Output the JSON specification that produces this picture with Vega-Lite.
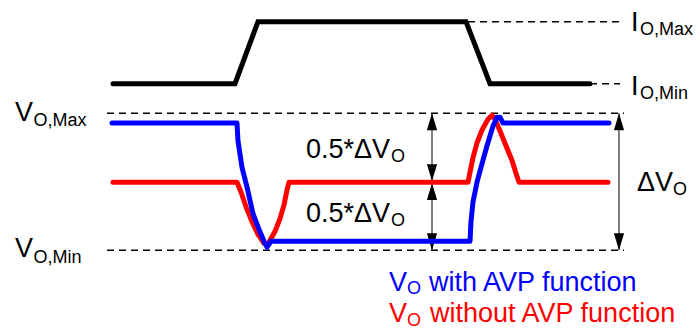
{
  "$schema": "https://vega.github.io/schema/vega-lite/v6.json",
  "width": 696,
  "height": 330,
  "padding": 0,
  "autosize": {"type": "fit", "contains": "padding"},
  "background": "white",
  "config": {"view": {"stroke": null}, "font": "Liberation Sans"},
  "datasets": {
    "wave": [
      {"series": "current", "i": 0, "t": 113, "v": 245},
      {"series": "current", "i": 1, "t": 235, "v": 245},
      {"series": "current", "i": 2, "t": 258, "v": 308},
      {"series": "current", "i": 3, "t": 466, "v": 308},
      {"series": "current", "i": 4, "t": 490, "v": 245},
      {"series": "current", "i": 5, "t": 590, "v": 245},

      {"series": "without", "i": 0, "t": 113, "v": 145},
      {"series": "without", "i": 1, "t": 237, "v": 145},
      {"series": "without", "i": 2, "t": 241, "v": 135},
      {"series": "without", "i": 3, "t": 246, "v": 120},
      {"series": "without", "i": 4, "t": 252, "v": 105},
      {"series": "without", "i": 5, "t": 258, "v": 92},
      {"series": "without", "i": 6, "t": 264, "v": 83},
      {"series": "without", "i": 7, "t": 267, "v": 81},
      {"series": "without", "i": 8, "t": 270, "v": 86},
      {"series": "without", "i": 9, "t": 275, "v": 95},
      {"series": "without", "i": 10, "t": 280, "v": 108},
      {"series": "without", "i": 11, "t": 284, "v": 122},
      {"series": "without", "i": 12, "t": 287, "v": 137},
      {"series": "without", "i": 13, "t": 289, "v": 145},
      {"series": "without", "i": 14, "t": 468, "v": 145},
      {"series": "without", "i": 15, "t": 470, "v": 155},
      {"series": "without", "i": 16, "t": 473, "v": 170},
      {"series": "without", "i": 17, "t": 477, "v": 185},
      {"series": "without", "i": 18, "t": 482, "v": 198},
      {"series": "without", "i": 19, "t": 488, "v": 209},
      {"series": "without", "i": 20, "t": 492, "v": 213},
      {"series": "without", "i": 21, "t": 495, "v": 209},
      {"series": "without", "i": 22, "t": 500, "v": 197},
      {"series": "without", "i": 23, "t": 506, "v": 182},
      {"series": "without", "i": 24, "t": 512, "v": 167},
      {"series": "without", "i": 25, "t": 516, "v": 154},
      {"series": "without", "i": 26, "t": 519, "v": 145},
      {"series": "without", "i": 27, "t": 608, "v": 145},

      {"series": "with", "i": 0, "t": 112, "v": 205},
      {"series": "with", "i": 1, "t": 237, "v": 205},
      {"series": "with", "i": 2, "t": 238, "v": 187},
      {"series": "with", "i": 3, "t": 242, "v": 160},
      {"series": "with", "i": 4, "t": 247, "v": 140},
      {"series": "with", "i": 5, "t": 253, "v": 113},
      {"series": "with", "i": 6, "t": 259, "v": 97},
      {"series": "with", "i": 7, "t": 264, "v": 85},
      {"series": "with", "i": 8, "t": 267, "v": 79},
      {"series": "with", "i": 9, "t": 271, "v": 85},
      {"series": "with", "i": 10, "t": 470, "v": 85},
      {"series": "with", "i": 11, "t": 471, "v": 105},
      {"series": "with", "i": 12, "t": 473, "v": 125},
      {"series": "with", "i": 13, "t": 477, "v": 145},
      {"series": "with", "i": 14, "t": 481, "v": 160},
      {"series": "with", "i": 15, "t": 487, "v": 182},
      {"series": "with", "i": 16, "t": 493, "v": 202},
      {"series": "with", "i": 17, "t": 497, "v": 211},
      {"series": "with", "i": 18, "t": 500, "v": 211},
      {"series": "with", "i": 19, "t": 503, "v": 205},
      {"series": "with", "i": 20, "t": 609, "v": 205}
    ],
    "dashes": [
      {"name": "IOMax", "t": 468, "t2": 620, "v": 308},
      {"name": "IOMin", "t": 590, "t2": 620, "v": 245},
      {"name": "VOMax", "t": 107, "t2": 624, "v": 215},
      {"name": "VOMin", "t": 107, "t2": 624, "v": 76}
    ],
    "spans": [
      {"name": "half", "t": 432, "v": 215, "v2": 76},
      {"name": "full", "t": 619, "v": 215, "v2": 76}
    ],
    "heads": [
      {"dir": "up", "t": 432, "v": 206.5},
      {"dir": "down", "t": 432, "v": 154.5},
      {"dir": "up", "t": 432, "v": 135.5},
      {"dir": "down", "t": 432, "v": 84.5},
      {"dir": "up", "t": 619, "v": 206.5},
      {"dir": "down", "t": 619, "v": 84.5}
    ],
    "labels": [
      {"role": "main", "group": "black", "label": "V", "t": 15, "v": 207},
      {"role": "sub", "group": "black", "label": "O,Max", "t": 33.5, "v": 202},
      {"role": "main", "group": "black", "label": "V", "t": 15, "v": 69},
      {"role": "sub", "group": "black", "label": "O,Min", "t": 33.5, "v": 63},
      {"role": "main", "group": "black", "label": "0.5*ΔV", "t": 306, "v": 170},
      {"role": "sub", "group": "black", "label": "O", "t": 391, "v": 166},
      {"role": "main", "group": "black", "label": "0.5*ΔV", "t": 306, "v": 105},
      {"role": "sub", "group": "black", "label": "O", "t": 391, "v": 101},
      {"role": "main", "group": "black", "label": "ΔV", "t": 637, "v": 136},
      {"role": "sub", "group": "black", "label": "O", "t": 673, "v": 132},
      {"role": "main", "group": "black", "label": "I", "t": 631, "v": 299},
      {"role": "sub", "group": "black", "label": "O,Max", "t": 640, "v": 294},
      {"role": "main", "group": "black", "label": "I", "t": 631, "v": 234},
      {"role": "sub", "group": "black", "label": "O,Min", "t": 640, "v": 229},
      {"role": "main", "group": "blue", "label": "V", "t": 389, "v": 35},
      {"role": "sub", "group": "blue", "label": "O", "t": 407, "v": 31},
      {"role": "main", "group": "blue", "label": "with AVP function", "t": 429, "v": 35},
      {"role": "main", "group": "red", "label": "V", "t": 389, "v": 3},
      {"role": "sub", "group": "red", "label": "O", "t": 407, "v": -1},
      {"role": "main", "group": "red", "label": "without AVP function", "t": 430, "v": 3}
    ]
  },
  "layer": [
    {
      "data": {"name": "dashes"},
      "mark": {"type": "rule", "color": "black", "strokeWidth": 1.5, "strokeDash": [7, 5]},
      "encoding": {
        "x": {"field": "t", "type": "quantitative", "scale": {"domain": [0, 696], "nice": false, "zero": false}, "axis": null},
        "x2": {"field": "t2"},
        "y": {"field": "v", "type": "quantitative", "scale": {"domain": [0, 330], "nice": false, "zero": false}, "axis": null}
      }
    },
    {
      "data": {"name": "spans"},
      "mark": {"type": "rule", "color": "black", "strokeWidth": 1},
      "encoding": {
        "x": {"field": "t", "type": "quantitative", "axis": null},
        "y": {"field": "v", "type": "quantitative", "axis": null},
        "y2": {"field": "v2"}
      }
    },
    {
      "data": {"name": "heads"},
      "transform": [{"filter": "datum.dir === 'up'"}],
      "mark": {"type": "point", "shape": "M0,-1L0.6,1L-0.6,1Z", "size": 289, "filled": true, "color": "black", "opacity": 1},
      "encoding": {
        "x": {"field": "t", "type": "quantitative", "axis": null},
        "y": {"field": "v", "type": "quantitative", "axis": null}
      }
    },
    {
      "data": {"name": "heads"},
      "transform": [{"filter": "datum.dir === 'down'"}],
      "mark": {"type": "point", "shape": "M0,1L0.6,-1L-0.6,-1Z", "size": 289, "filled": true, "color": "black", "opacity": 1},
      "encoding": {
        "x": {"field": "t", "type": "quantitative", "axis": null},
        "y": {"field": "v", "type": "quantitative", "axis": null}
      }
    },
    {
      "data": {"name": "wave"},
      "transform": [{"filter": "datum.series === 'current'"}],
      "mark": {"type": "line", "color": "black", "strokeWidth": 5, "strokeJoin": "miter", "strokeCap": "round"},
      "encoding": {
        "x": {"field": "t", "type": "quantitative", "axis": null},
        "y": {"field": "v", "type": "quantitative", "axis": null},
        "order": {"field": "i"}
      }
    },
    {
      "data": {"name": "wave"},
      "transform": [{"filter": "datum.series === 'without'"}],
      "mark": {"type": "line", "color": "#FF0000", "strokeWidth": 5, "strokeJoin": "round", "strokeCap": "round"},
      "encoding": {
        "x": {"field": "t", "type": "quantitative", "axis": null},
        "y": {"field": "v", "type": "quantitative", "axis": null},
        "order": {"field": "i"}
      }
    },
    {
      "data": {"name": "wave"},
      "transform": [{"filter": "datum.series === 'with'"}],
      "mark": {"type": "line", "color": "#0000FF", "strokeWidth": 5, "strokeJoin": "round", "strokeCap": "round"},
      "encoding": {
        "x": {"field": "t", "type": "quantitative", "axis": null},
        "y": {"field": "v", "type": "quantitative", "axis": null},
        "order": {"field": "i"}
      }
    },
    {
      "data": {"name": "labels"},
      "transform": [{"filter": "datum.role === 'main'"}],
      "mark": {"type": "text", "align": "left", "baseline": "alphabetic", "fontSize": 27, "font": "Liberation Sans"},
      "encoding": {
        "x": {"field": "t", "type": "quantitative", "axis": null},
        "y": {"field": "v", "type": "quantitative", "axis": null},
        "text": {"field": "label"},
        "color": {"field": "group", "type": "nominal", "scale": {"domain": ["black", "blue", "red"], "range": ["#000000", "#0000FF", "#FF0000"]}, "legend": null}
      }
    },
    {
      "data": {"name": "labels"},
      "transform": [{"filter": "datum.role === 'sub'"}],
      "mark": {"type": "text", "align": "left", "baseline": "alphabetic", "fontSize": 18, "font": "Liberation Sans"},
      "encoding": {
        "x": {"field": "t", "type": "quantitative", "axis": null},
        "y": {"field": "v", "type": "quantitative", "axis": null},
        "text": {"field": "label"},
        "color": {"field": "group", "type": "nominal", "scale": {"domain": ["black", "blue", "red"], "range": ["#000000", "#0000FF", "#FF0000"]}, "legend": null}
      }
    }
  ]
}
